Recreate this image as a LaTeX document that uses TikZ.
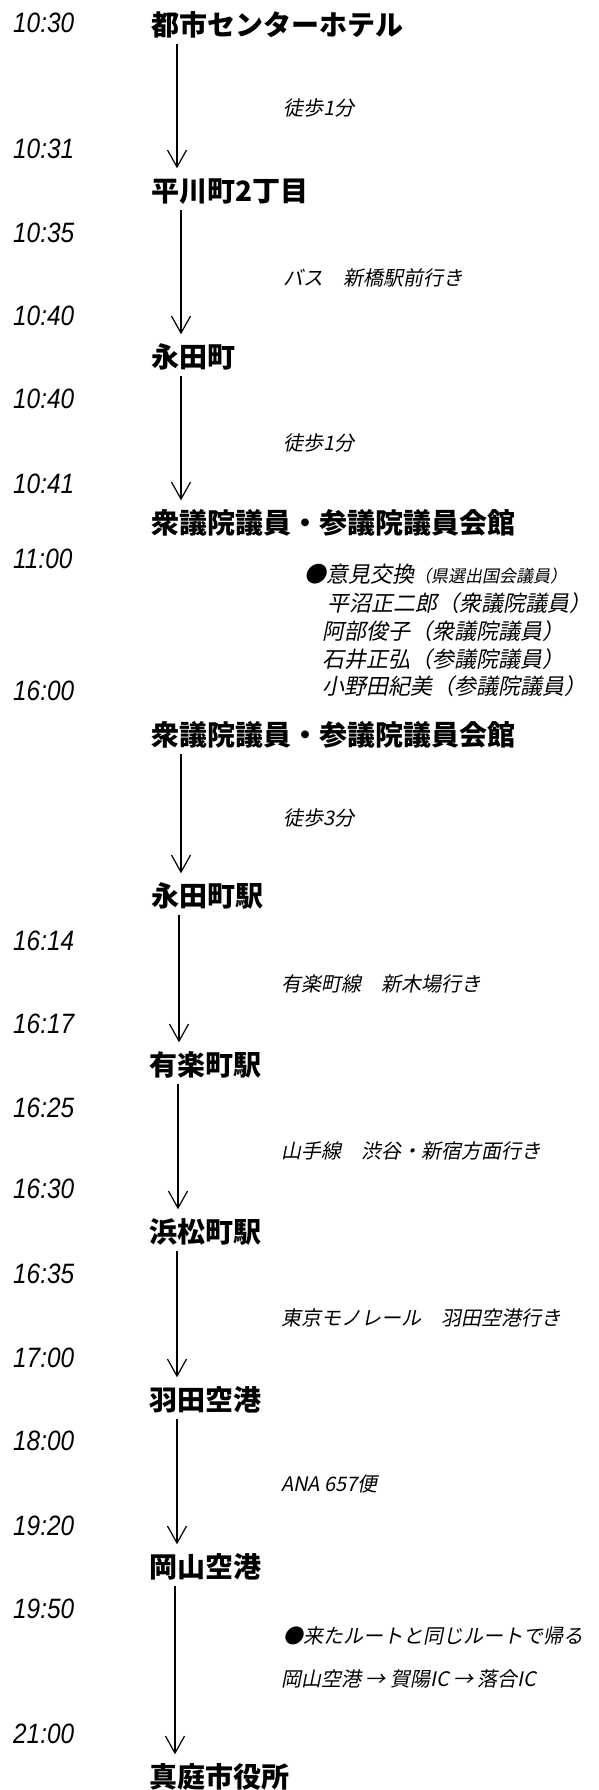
\documentclass[tikz,border=0pt]{standalone}
\usepackage{fontspec}
\usetikzlibrary{arrows.meta}
\newfontfamily\jp{Noto Sans CJK JP}
\newfontfamily\jpi{Noto Sans CJK JP}[FakeSlant=0.2]
\newfontfamily\tmf{Liberation Sans}[FakeStretch=0.87]
\tikzset{
  place/.style={anchor=west, inner sep=0pt, font=\jp\bfseries\fontsize{28}{30}\selectfont, text height=23pt, text depth=2pt},
  tlabel/.style={anchor=west, inner sep=0pt, font=\tmf\itshape\fontsize{28}{30}\selectfont, text height=20pt, text depth=0pt},
  mlabel/.style={anchor=west, inner sep=0pt, font=\jpi\fontsize{20}{22}\selectfont, text height=17pt, text depth=1pt},
  member/.style={anchor=west, inner sep=0pt, font=\jpi\fontsize{22}{24}\selectfont, text height=19pt, text depth=1pt},
  route/.style={line width=1.2pt, -{Straight Barb[length=17pt,width=19pt]}, shorten <=6pt, shorten >=10pt},
}
\begin{document}
\begin{tikzpicture}[x=1pt,y=-1pt]
\useasboundingbox[fill=white] (0,0) rectangle (598,1790);
% times
\node[tlabel] (T1) at (13,23) {10:30};
\node[tlabel] (T2) at (13,149) {10:31};
\node[tlabel] (T3) at (13,232) {10:35};
\node[tlabel] (T4) at (13,315) {10:40};
\node[tlabel] (T5) at (13,398) {10:40};
\node[tlabel] (T6) at (13,483) {10:41};
\node[tlabel] (T7) at (13,558) {11:00};
\node[tlabel] (T8) at (13,690) {16:00};
\node[tlabel] (T9) at (13,940) {16:14};
\node[tlabel] (T10) at (13,1023) {16:17};
\node[tlabel] (T11) at (13,1107) {16:25};
\node[tlabel] (T12) at (13,1188) {16:30};
\node[tlabel] (T13) at (13,1273) {16:35};
\node[tlabel] (T14) at (13,1357) {17:00};
\node[tlabel] (T15) at (13,1440) {18:00};
\node[tlabel] (T16) at (13,1525) {19:20};
\node[tlabel] (T17) at (13,1608) {19:50};
\node[tlabel] (T18) at (13,1733) {21:00};
% places
\node[place] (P1) at (151,25) {都市センターホテル};
\node[place] (P2) at (151,191) {平川町2丁目};
\node[place] (P3) at (151,357) {永田町};
\node[place] (P4) at (151,523) {衆議院議員・参議院議員会館};
\node[place] (P5) at (151,735) {衆議院議員・参議院議員会館};
\node[place] (P6) at (151,896) {永田町駅};
\node[place] (P7) at (149,1065) {有楽町駅};
\node[place] (P8) at (149,1232) {浜松町駅};
\node[place] (P9) at (149,1400) {羽田空港};
\node[place] (P10) at (149,1567) {岡山空港};
\node[place] (P11) at (149,1777) {真庭市役所};
% arrows
\draw[route] ([xshift=26pt]P1.south west) -- ([xshift=26pt]P2.north west);
\draw[route] ([xshift=30pt]P2.south west) -- ([xshift=30pt]P3.north west);
\draw[route] ([xshift=30pt]P3.south west) -- ([xshift=30pt]P4.north west);
\draw[route] ([xshift=30pt]P5.south west) -- ([xshift=30pt]P6.north west);
\draw[route] ([xshift=28pt]P6.south west) -- ([xshift=30pt]P7.north west);
\draw[route] ([xshift=29pt]P7.south west) -- ([xshift=29pt]P8.north west);
\draw[route] ([xshift=28pt]P8.south west) -- ([xshift=28pt]P9.north west);
\draw[route] ([xshift=28pt]P9.south west) -- ([xshift=28pt]P10.north west);
\draw[route] ([xshift=26pt]P10.south west) -- ([xshift=26pt]P11.north west);
% means of transport
\node[mlabel] (L1) at (283,108) {徒歩1分};
\node[mlabel] (L2) at (283,277) {バス　新橋駅前行き};
\node[mlabel] (L3) at (283,442) {徒歩1分};
\node[mlabel] (L4) at (283,817) {徒歩3分};
\node[mlabel] (L5) at (281,983) {有楽町線　新木場行き};
\node[mlabel] (L6) at (281,1150) {山手線　渋谷・新宿方面行き};
\node[mlabel] (L7) at (281,1317) {東京モノレール　羽田空港行き};
\node[mlabel] (L8) at (281,1483) {ANA 657便};
\node[mlabel] (L9) at (283,1635) {●来たルートと同じルートで帰る};
\node[mlabel] (L10) at (281,1678) {岡山空港 → 賀陽IC → 落合IC};
% meeting
\node[member] (M0) at (304,573) {●意見交換{\fontsize{17}{19}\selectfont （県選出国会議員）}};
\node[member] (M1) at (327,602) {平沼正二郎（衆議院議員）};
\node[member] (M2) at (322,630) {阿部俊子（衆議院議員）};
\node[member] (M3) at (322,658) {石井正弘（参議院議員）};
\node[member] (M4) at (322,685) {小野田紀美（参議院議員）};
\end{tikzpicture}
\end{document}
